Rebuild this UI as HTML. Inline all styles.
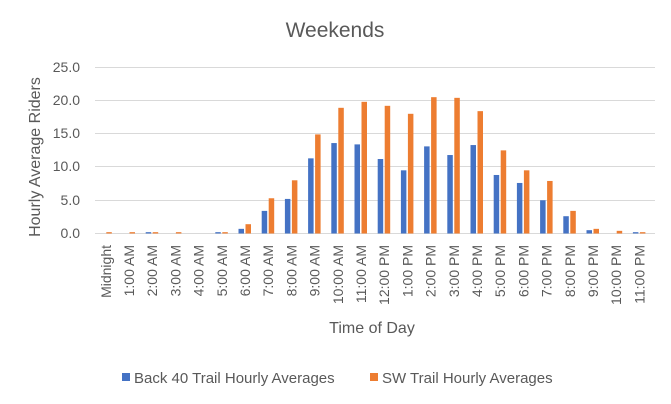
<!DOCTYPE html>
<html><head><meta charset="utf-8"><style>
body{margin:0;background:#fff;}
svg{display:block;font-family:"Liberation Sans",Arial,sans-serif;}
</style></head><body>
<svg width="671" height="404" viewBox="0 0 671 404" xmlns="http://www.w3.org/2000/svg">
<rect width="671" height="404" fill="#fff"/>
<text x="335" y="37" font-size="21" fill="#595959" text-anchor="middle">Weekends</text>
<g stroke="#d9d9d9" stroke-width="1">
<line x1="95" x2="655" y1="67.5" y2="67.5"/>
<line x1="95" x2="655" y1="100.5" y2="100.5"/>
<line x1="95" x2="655" y1="133.5" y2="133.5"/>
<line x1="95" x2="655" y1="166.5" y2="166.5"/>
<line x1="95" x2="655" y1="200.5" y2="200.5"/>
<line x1="95" x2="655" y1="233.5" y2="233.5"/>
</g>
<g font-size="14" fill="#595959" text-anchor="end">
<text x="80" y="72">25.0</text>
<text x="80" y="105">20.0</text>
<text x="80" y="138">15.0</text>
<text x="80" y="171">10.0</text>
<text x="80" y="205">5.0</text>
<text x="80" y="238">0.0</text>
</g>
<text transform="translate(40,157) rotate(-90)" font-size="16" fill="#595959" text-anchor="middle">Hourly Average Riders</text>
<g id="bars"></g>
<g id="labels" font-size="14" fill="#595959"></g>
<text x="372" y="333" font-size="16" fill="#595959" text-anchor="middle">Time of Day</text>
<rect x="122" y="373" width="8" height="8" fill="#4472c4"/>
<text x="134" y="383" font-size="15" fill="#595959">Back 40 Trail Hourly Averages</text>
<rect x="370" y="373" width="8" height="8" fill="#ed7d31"/>
<text x="382" y="383" font-size="15" fill="#595959">SW Trail Hourly Averages</text>
<script>
var b=[0,0,0.2,0,0,0.2,0.7,3.4,5.2,11.3,13.6,13.4,11.2,9.5,13.1,11.8,13.3,8.8,7.6,5.0,2.6,0.5,0,0.2];
var o=[0.2,0.2,0.2,0.2,0,0.2,1.4,5.3,8.0,14.9,18.9,19.8,19.2,18.0,20.5,20.4,18.4,12.5,9.5,7.9,3.4,0.7,0.4,0.2];
var L=["Midnight","1:00 AM","2:00 AM","3:00 AM","4:00 AM","5:00 AM","6:00 AM","7:00 AM","8:00 AM","9:00 AM","10:00 AM","11:00 AM","12:00 PM","1:00 PM","2:00 PM","3:00 PM","4:00 PM","5:00 PM","6:00 PM","7:00 PM","8:00 PM","9:00 PM","10:00 PM","11:00 PM"];
var ns="http://www.w3.org/2000/svg",g=document.getElementById("bars"),lg=document.getElementById("labels");
function r(x,v,c){if(v<=0)return;var h=v*6.65;var e=document.createElementNS(ns,"rect");e.setAttribute("x",x);e.setAttribute("y",233.5-h);e.setAttribute("width",5.5);e.setAttribute("height",h);e.setAttribute("fill",c);g.appendChild(e);}
for(var i=0;i<24;i++){var c=105.8+23.2*i;r(c-6.5,b[i],"#4472c4");r(c+0.5,o[i],"#ed7d31");
var t=document.createElementNS(ns,"text");t.setAttribute("transform","translate("+(c+5)+",245) rotate(-90)");t.setAttribute("text-anchor","end");t.textContent=L[i];lg.appendChild(t);}
</script>
</svg>
</body></html>
